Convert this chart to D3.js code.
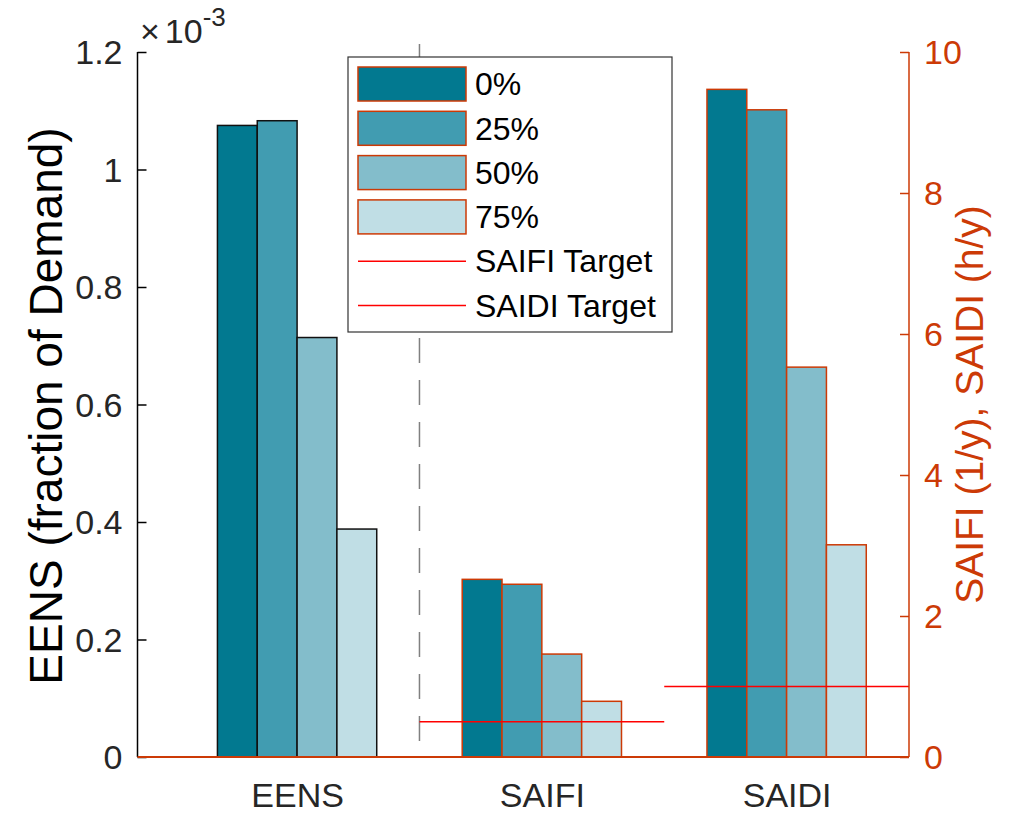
<!DOCTYPE html>
<html>
<head>
<meta charset="utf-8">
<script src="https://cdn.jsdelivr.net/npm/d3@7"></script>
<style>
  html, body { margin: 0; padding: 0; background: #fff; }
  svg { display: block; font-family: "Liberation Sans", Arial, Helvetica, sans-serif; }
</style>
</head>
<body>
<svg id="chart" width="1010" height="813"></svg>
<script>
// Metrics along the x axis
const categories = ["EENS", "SAIFI", "SAIDI"];
// Scenario series (share of improvement)
const scenarios = ["0%", "25%", "50%", "75%"];
// EENS values (fraction of demand, ×10^-3) – left axis
const eensValues = [1.075, 1.083, 0.714, 0.388];
// SAIFI (1/y) and SAIDI (h/y) values – right axis
const saifiValues = [2.52, 2.45, 1.46, 0.79];
const saidiValues = [9.47, 9.18, 5.53, 3.01];
// Reliability targets
const saifiTarget = 0.5;
const saidiTarget = 1.0;
// Tick labels
const leftTicks = [0, 0.2, 0.4, 0.6, 0.8, 1, 1.2];
const rightTicks = [0, 2, 4, 6, 8, 10];

const colors = ["#027990", "#419cb1", "#83bdcb", "#c0dee5"];
const accent = "#cc3a06";
const textColor = "#262626";

const tickFont = 34;
const leftTitleFont = 46;
const rightTitleFont = 39;
const legendFont = 32;

const svg = d3.select("#chart");
const plot = { left: 137.5, right: 909, top: 52, bottom: 757 };

const x = d3.scaleLinear().domain([0.348, 3.5]).range([plot.left, plot.right]);
const yL = d3.scaleLinear().domain([0, 1.2]).range([plot.bottom, plot.top]);
const yR = d3.scaleLinear().domain([0, 10]).range([plot.bottom, plot.top]);

const barW = 0.1627;
const offset = i => (i - 1.5) * barW;

// group data: category index, values, scale, edge colour
const groups = [
  { c: 1, values: eensValues, y: yL, edge: "#111" },
  { c: 2, values: saifiValues, y: yR, edge: accent },
  { c: 3, values: saidiValues, y: yR, edge: accent }
];

// separator between EENS and reliability indices
svg.append("line")
  .attr("x1", x(1.5)).attr("x2", x(1.5))
  .attr("y1", plot.top - 8).attr("y2", plot.bottom)
  .attr("stroke", "#808080").attr("stroke-width", 1.5)
  .attr("stroke-dasharray", "25,17");

// bars
groups.forEach(g => {
  svg.append("g").selectAll("rect")
    .data(g.values)
    .join("rect")
    .attr("x", (d, i) => x(g.c + offset(i) - barW / 2))
    .attr("width", x(barW) - x(0))
    .attr("y", d => g.y(d))
    .attr("height", d => plot.bottom - g.y(d))
    .attr("fill", (d, i) => colors[i])
    .attr("stroke", g.edge)
    .attr("stroke-width", 1.5);
});

// target lines
svg.append("line")
  .attr("x1", x(1.5)).attr("x2", x(2.5))
  .attr("y1", yR(saifiTarget)).attr("y2", yR(saifiTarget))
  .attr("stroke", "#ff0000").attr("stroke-width", 1.5);
svg.append("line")
  .attr("x1", x(2.5)).attr("x2", x(3.5))
  .attr("y1", yR(saidiTarget)).attr("y2", yR(saidiTarget))
  .attr("stroke", "#ff0000").attr("stroke-width", 1.5);

// left axis
const leftAxis = d3.axisRight(yL).tickValues(leftTicks).tickSize(9)
  .tickFormat(d => d3.format("~g")(d));
const gl = svg.append("g").attr("transform", `translate(${plot.left},0)`).call(leftAxis);
gl.select(".domain").attr("stroke", "#000").attr("stroke-width", 1.5)
  .attr("d", `M0,${plot.top}V${plot.bottom}`);
gl.selectAll(".tick line").attr("stroke", "#000").attr("stroke-width", 1.5);
gl.selectAll(".tick text").attr("x", -15).attr("text-anchor", "end")
  .attr("font-size", tickFont).attr("fill", textColor).attr("dy", "0.35em");

// right axis
const rightAxis = d3.axisLeft(yR).tickValues(rightTicks).tickSize(9);
const gr = svg.append("g").attr("transform", `translate(${plot.right},0)`).call(rightAxis);
gr.select(".domain").attr("stroke", accent).attr("stroke-width", 1.5)
  .attr("d", `M0,${plot.top}V${plot.bottom}`);
gr.selectAll(".tick line").attr("stroke", accent).attr("stroke-width", 1.5);
gr.selectAll(".tick text").attr("x", 15).attr("text-anchor", "start")
  .attr("font-size", tickFont).attr("fill", accent).attr("dy", "0.35em");

// bottom axis
const bottomAxis = d3.axisBottom(x).tickValues([1, 2, 3]).tickSize(0)
  .tickFormat((d, i) => categories[i]);
const gb = svg.append("g").attr("transform", `translate(0,${plot.bottom})`).call(bottomAxis);
gb.select(".domain").attr("stroke", accent).attr("stroke-width", 2)
  .attr("d", `M${plot.left},0H${plot.right}`);
gb.selectAll(".tick text").attr("y", 50).attr("dy", "0")
  .attr("font-size", tickFont).attr("fill", textColor);

// exponent label
const expo = svg.append("text").attr("x", 140).attr("y", 43)
  .attr("font-size", 34).attr("fill", textColor);
expo.append("tspan").text("×");
expo.append("tspan").attr("dx", 5).text("10");
expo.append("tspan").attr("font-size", 26).attr("dy", -17).text("-3");

// axis titles
svg.append("text")
  .attr("transform", `translate(62,406) rotate(-90)`)
  .attr("text-anchor", "middle").attr("font-size", leftTitleFont).attr("fill", "#000")
  .text("EENS (fraction of Demand)");
svg.append("text")
  .attr("transform", `translate(983,${(plot.top + plot.bottom) / 2}) rotate(-90)`)
  .attr("text-anchor", "middle").attr("font-size", rightTitleFont).attr("fill", accent)
  .text("SAIFI (1/y), SAIDI (h/y)");

// legend
const lg = svg.append("g");
lg.append("rect").attr("x", 348).attr("y", 57).attr("width", 324).attr("height", 275)
  .attr("fill", "#fff").attr("stroke", "#333").attr("stroke-width", 1.2);
const rowY = i => 84 + i * 44.3;
scenarios.forEach((s, i) => {
  lg.append("rect").attr("x", 358).attr("y", rowY(i) - 17).attr("width", 108).attr("height", 34)
    .attr("fill", colors[i]).attr("stroke", accent).attr("stroke-width", 1.5);
  lg.append("text").attr("x", 475).attr("y", rowY(i)).attr("dy", "0.35em")
    .attr("font-size", legendFont).attr("fill", "#000").text(s);
});
["SAIFI Target", "SAIDI Target"].forEach((s, j) => {
  const yy = rowY(4 + j);
  lg.append("line").attr("x1", 358).attr("x2", 466).attr("y1", yy).attr("y2", yy)
    .attr("stroke", "#ff0000").attr("stroke-width", 1.5);
  lg.append("text").attr("x", 475).attr("y", yy).attr("dy", "0.35em")
    .attr("font-size", legendFont).attr("fill", "#000").text(s);
});
</script>
</body>
</html>
